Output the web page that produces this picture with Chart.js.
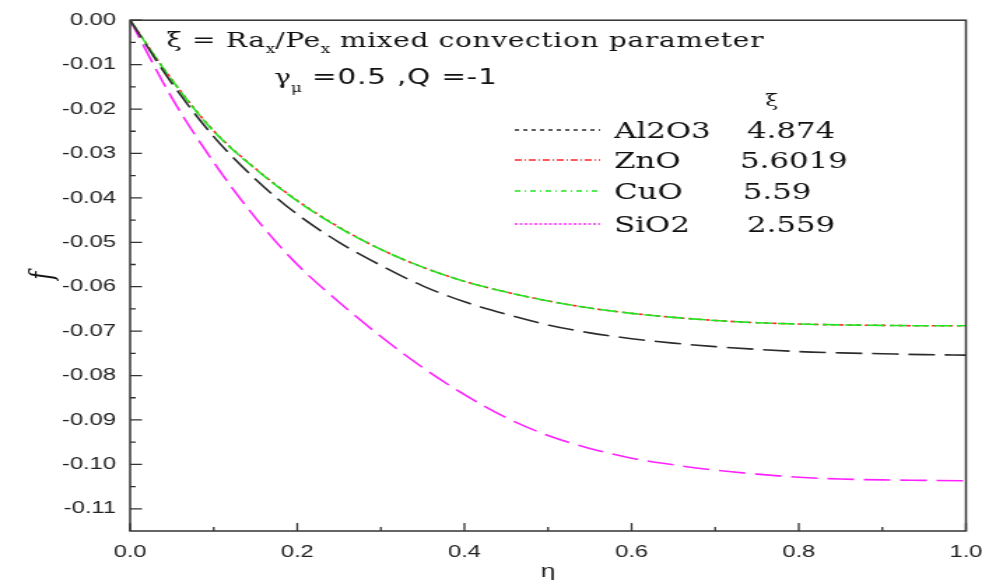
<!DOCTYPE html>
<html>
<head>
<meta charset="utf-8">
<script src="https://cdn.jsdelivr.net/npm/chart.js@4.4.0/dist/chart.umd.min.js"></script>
<style>
  html, body { margin: 0; padding: 0; background: #fff; overflow: hidden; }
  /* la figura original está estirada en horizontal */
  #marco { width: 702px; height: 580px; transform: scaleX(1.3989); transform-origin: 0 0; }
</style>
</head>
<body>
<div id="marco"><canvas id="grafico"></canvas></div>
<script>
const eta = [0, 0.05, 0.1, 0.15, 0.2, 0.25, 0.3, 0.35, 0.4, 0.45, 0.5,
             0.55, 0.6, 0.65, 0.7, 0.75, 0.8, 0.85, 0.9, 0.95, 1.0];

const fAl2O3 = [0, -0.0142, -0.0262, -0.0358, -0.0437, -0.0500, -0.0552, -0.0598, -0.0634, -0.0662, -0.0686,
                -0.0704, -0.0717, -0.0727, -0.0735, -0.0741, -0.0746, -0.0749, -0.0751, -0.0753, -0.0754];
const fZnO   = [0, -0.0134, -0.0249, -0.0334, -0.0406, -0.0466, -0.0516, -0.0556, -0.0588, -0.0612, -0.0632,
                -0.0648, -0.0660, -0.0669, -0.0676, -0.0681, -0.0684, -0.0686, -0.0687, -0.0688, -0.0688];
const fCuO   = [0, -0.0135, -0.0250, -0.0335, -0.0407, -0.0467, -0.0516, -0.0556, -0.0588, -0.0612, -0.0632,
                -0.0648, -0.0660, -0.0669, -0.0676, -0.0681, -0.0684, -0.0686, -0.0687, -0.0688, -0.0688];
const fSiO2  = [0, -0.0175, -0.0320, -0.0445, -0.0550, -0.0635, -0.0712, -0.0782, -0.0843, -0.0895, -0.0935,
                -0.0964, -0.0986, -0.1001, -0.1013, -0.1022, -0.1029, -0.1033, -0.1035, -0.1036, -0.1037];

const nombres = ['Al2O3', 'ZnO', 'CuO', 'SiO2'];
const valoresXi = ['4.874', '5.6019', '5.59', '2.559'];

const ticksX = [0, 0.2, 0.4, 0.6, 0.8, 1.0];
const ticksY = [0, -0.01, -0.02, -0.03, -0.04, -0.05, -0.06, -0.07, -0.08, -0.09, -0.10, -0.11];

const puntos = serie => eta.map((x, i) => ({ x: x, y: serie[i] }));

// ejes en marco, con marcas hacia dentro
const marcoEjes = {
  id: 'marcoEjes',
  afterDatasetsDraw(chart) {
    const { ctx, chartArea: a, scales: { x, y } } = chart;
    ctx.save();
    ctx.strokeStyle = '#333';
    ctx.lineWidth = 1.5;
    ctx.strokeRect(a.left, a.top, a.right - a.left, a.bottom - a.top);
    ctx.lineWidth = 1.3;
    ctx.beginPath();
    ticksX.forEach((v, i) => {
      const px = x.getPixelForValue(v);
      ctx.moveTo(px, a.bottom); ctx.lineTo(px, a.bottom - 8);
      if (i < ticksX.length - 1) {
        const pm = x.getPixelForValue((v + ticksX[i + 1]) / 2);
        ctx.moveTo(pm, a.bottom); ctx.lineTo(pm, a.bottom - 4);
      }
    });
    ticksY.forEach((v, i) => {
      const py = y.getPixelForValue(v);
      ctx.moveTo(a.left, py); ctx.lineTo(a.left + 8.5, py);
      if (i < ticksY.length - 1) {
        const pm = y.getPixelForValue((v + ticksY[i + 1]) / 2);
        ctx.moveTo(a.left, pm); ctx.lineTo(a.left + 4, pm);
      }
    });
    ctx.stroke();
    ctx.restore();
  }
};

function escribir(ctx, x, y, trozos) {
  trozos.forEach(t => {
    ctx.font = t.font;
    ctx.letterSpacing = t.esp || '0px';
    ctx.fillText(t.txt, x, y + (t.dy || 0));
    x += ctx.measureText(t.txt).width;
  });
  ctx.letterSpacing = '0px';
}

// textos y leyenda dentro del área
const anotaciones = {
  id: 'anotaciones',
  afterDraw(chart) {
    const ctx = chart.ctx;
    const serif = '"DejaVu Serif", serif';
    ctx.save();
    ctx.fillStyle = '#111';
    ctx.textBaseline = 'alphabetic';
    escribir(ctx, 119, 47, [
      { txt: 'ξ = Ra', font: '20px ' + serif, esp: '0.5px' },
      { txt: 'x', font: '12px ' + serif, dy: 6 },
      { txt: '/Pe', font: '20px ' + serif, esp: '0.5px' },
      { txt: 'x', font: '12px ' + serif, dy: 6 },
      { txt: ' mixed convection parameter', font: '20px ' + serif, esp: '0.5px' }
    ]);
    escribir(ctx, 196, 84, [
      { txt: 'γ', font: '20px ' + serif },
      { txt: 'μ', font: '12px ' + serif, dy: 8 },
      { txt: ' =0.5 ,Q =-1', font: '21px "DejaVu Sans", sans-serif', esp: '0.6px' }
    ]);

    ctx.font = '17px ' + serif;
    ctx.fillText('ξ', 547, 106);

    const filas = [130, 160, 191, 224];
    const muestras = [[3, 3], [5, 2, 1, 2], [4, 3, 1, 3], [2, 1.5]];
    const xValor = [534, 529, 531, 534];
    chart.data.datasets.forEach((ds, i) => {
      ctx.strokeStyle = ds.borderColor;
      ctx.lineWidth = 1.5;
      ctx.setLineDash(muestras[i]);
      ctx.beginPath();
      ctx.moveTo(368, filas[i]);
      ctx.lineTo(429, filas[i]);
      ctx.stroke();
      ctx.setLineDash([]);
      ctx.font = '22px ' + serif;
      ctx.fillText(nombres[i], 439, filas[i] + 8);
      ctx.fillText(valoresXi[i], xValor[i], filas[i] + 8);
    });
    ctx.restore();
  }
};

const ctx = document.getElementById('grafico').getContext('2d');
new Chart(ctx, {
  type: 'line',
  data: {
    datasets: [
      { label: nombres[0], data: puntos(fAl2O3), borderColor: '#2b2b2b', borderDash: [19, 7], borderWidth: 1.6, order: 0 },
      { label: nombres[1], data: puntos(fZnO), borderColor: '#ff2626', borderDash: [3, 3], borderWidth: 1.6, order: 2 },
      { label: nombres[2], data: puntos(fCuO), borderColor: '#1ee61e', borderDash: [12, 4], borderWidth: 1.6, order: 1 },
      { label: nombres[3], data: puntos(fSiO2), borderColor: '#ff22ff', borderDash: [19, 7], borderWidth: 1.6, order: 3 }
    ]
  },
  options: {
    responsive: true,
    maintainAspectRatio: false,
    animation: false,
    layout: { padding: { left: 0, right: 11.5, top: 20, bottom: 0 } },
    elements: {
      point: { radius: 0 },
      line: { cubicInterpolationMode: 'monotone', fill: false }
    },
    plugins: {
      legend: { display: false },
      tooltip: { enabled: false }
    },
    scales: {
      x: {
        type: 'linear',
        min: 0,
        max: 1,
        afterBuildTicks: s => { s.ticks = ticksX.map(v => ({ value: v })); },
        afterFit: s => { s.height = 49; s.paddingLeft = 0; s.paddingRight = 0; },
        grid: { display: false, drawTicks: false },
        border: { display: false },
        ticks: {
          padding: 11,
          color: '#222',
          maxRotation: 0,
          font: { family: '"Liberation Sans", Arial, sans-serif', size: 17 },
          callback: v => v.toFixed(1)
        },
        title: {
          display: true,
          text: 'η',
          color: '#222',
          padding: { top: 0, bottom: -3 },
          font: { family: '"Liberation Sans", Arial, sans-serif', size: 19 }
        }
      },
      y: {
        type: 'linear',
        min: -0.115,
        max: 0,
        afterBuildTicks: s => { s.ticks = ticksY.map(v => ({ value: v })); },
        afterFit: s => { s.width = 93; },
        grid: { display: false, drawTicks: false },
        border: { display: false },
        ticks: {
          padding: 10,
          color: '#222',
          font: { family: '"Liberation Sans", Arial, sans-serif', size: 17 },
          callback: v => v.toFixed(2)
        },
        title: {
          display: true,
          text: 'f',
          color: '#111',
          padding: { top: 18, bottom: 0 },
          font: { family: '"DejaVu Serif", serif', size: 22, style: 'italic' }
        }
      }
    }
  },
  plugins: [marcoEjes, anotaciones]
});
</script>
</body>
</html>
